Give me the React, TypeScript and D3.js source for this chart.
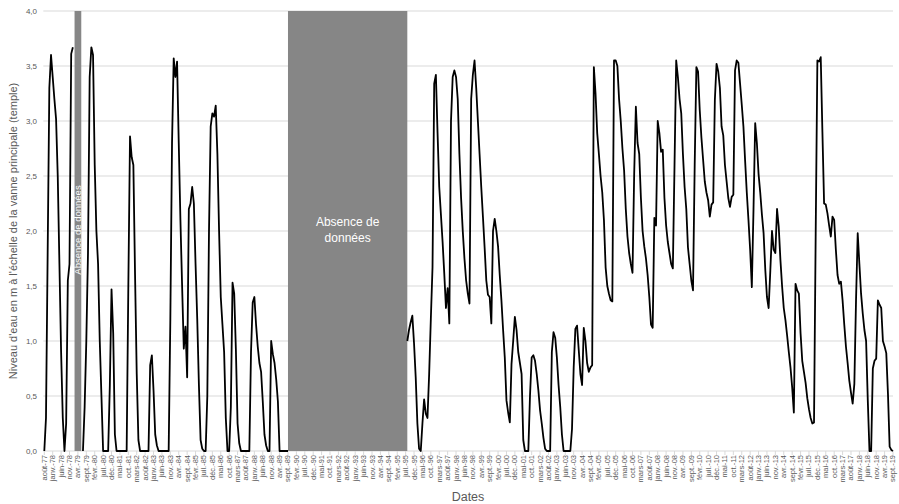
import React from "react";
import * as d3 from "d3";

const N = null;

// French month abbreviations (Excel "mmm-yy" style)
const MONTHS = ["janv.", "févr.", "mars", "avr.", "mai", "juin", "juil.", "août", "sept.", "oct.", "nov.", "déc."];
const START_YEAR = 1977;
const START_MONTH = 7; // août
const LABEL_STEP = 5;

// Monthly water level (m), from août-77 to sept-19, one row per 12 months
const LEVELS: (number | null)[] = [
  0, 0.3, 1.8, 3.3, 3.6, 3.4, 3.2, 3.02, 2.5, 1.7, 0.9, 0.3,
  0, 0.25, 1.55, 1.7, 3.61, 3.67, N, N, N, N, N, 0,
  0.4, 1.0, 1.8, 3.4, 3.67, 3.6, 2.6, 2.0, 1.7, 1.0, 0.5, 0,
  0, 0, 0, 0.6, 1.47, 1.07, 0.15, 0, 0, 0, 0, 0,
  0, 0, 1.5, 2.86, 2.67, 2.6, 1.6, 0.7, 0.1, 0, 0, 0,
  0, 0, 0, 0.78, 0.87, 0.55, 0.15, 0.05, 0, 0, 0, 0,
  0, 0, 0, 1.2, 2.8, 3.57, 3.4, 3.54, 2.8, 2.1, 1.5, 0.93,
  1.13, 0.67, 2.2, 2.25, 2.4, 2.25, 1.7, 1.2, 0.6, 0.1, 0.02, 0,
  0, 0.5, 2.0, 2.95, 3.07, 3.04, 3.14, 2.7, 2.0, 1.4, 1.15, 0.9,
  0.3, 0, 0, 0.4, 1.53, 1.43, 0.92, 0.25, 0.07, 0, 0, 0,
  0, 0, 0, 0.9, 1.35, 1.4, 1.15, 0.95, 0.8, 0.72, 0.45, 0.15,
  0.05, 0, 0, 1.0, 0.88, 0.8, 0.65, 0.45, 0, 0, 0, 0,
  0, 0, N, N, N, N, N, N, N, N, N, N,
  N, N, N, N, N, N, N, N, N, N, N, N,
  N, N, N, N, N, N, N, N, N, N, N, N,
  N, N, N, N, N, N, N, N, N, N, N, N,
  N, N, N, N, N, N, N, N, N, N, N, N,
  N, N, N, N, N, N, N, N, N, N, N, N,
  1.0, 1.1, 1.17, 1.23, 0.98, 0.67, 0.25, 0.02, 0, 0.25, 0.47, 0.34,
  0.3, 0.7, 1.2, 1.67, 3.34, 3.42, 2.89, 2.4, 2.15, 1.9, 1.61, 1.3,
  1.48, 1.16, 3.0, 3.4, 3.46, 3.4, 3.2, 2.7, 2.3, 2.0, 1.75, 1.55,
  1.43, 1.34, 3.2, 3.42, 3.55, 3.3, 3.0, 2.7, 2.4, 2.13, 1.85, 1.55,
  1.42, 1.4, 1.16, 2.0, 2.11, 2.0, 1.86, 1.6, 1.37, 1.1, 0.85, 0.46,
  0.35, 0.26, 0.79, 1.0, 1.22, 1.1, 0.9, 0.8, 0.7, 0.1, 0, 0,
  0, 0.5, 0.85, 0.87, 0.82, 0.7, 0.55, 0.37, 0.25, 0.12, 0.02, 0,
  0, 0, 0.9, 1.08, 1.03, 0.85, 0.6, 0.4, 0.15, 0, 0, 0,
  0, 0, 0.2, 0.76, 1.11, 1.14, 0.92, 0.7, 0.6, 1.12, 1.0, 0.8,
  0.72, 0.76, 0.78, 3.49, 3.25, 2.89, 2.7, 2.5, 2.35, 2.1, 1.67, 1.5,
  1.43, 1.37, 1.36, 3.55, 3.55, 3.5, 3.2, 3.0, 2.75, 2.55, 2.2, 1.95,
  1.8, 1.7, 1.62, 2.52, 3.13, 2.8, 2.7, 2.3, 2.0, 1.86, 1.75, 1.6,
  1.4, 1.15, 1.12, 2.12, 2.05, 3.0, 2.89, 2.72, 2.74, 2.3, 2.05, 1.9,
  1.8, 1.7, 1.66, 2.6, 3.55, 3.4, 3.2, 3.07, 2.7, 2.4, 2.2, 1.85,
  1.7, 1.55, 1.46, 2.6, 3.49, 3.45, 3.1, 2.85, 2.65, 2.45, 2.35, 2.28,
  2.13, 2.24, 2.26, 3.19, 3.52, 3.45, 3.3, 2.95, 2.87, 2.6, 2.45, 2.3,
  2.22, 2.31, 2.33, 3.46, 3.55, 3.53, 3.34, 3.15, 2.95, 2.64, 2.35, 2.1,
  1.83, 1.49, 2.2, 2.98, 2.8, 2.52, 2.35, 2.15, 1.98, 1.65, 1.4, 1.3,
  1.64, 2.0, 1.83, 1.8, 2.2, 2.04, 1.74, 1.5, 1.3, 1.19, 1.05, 0.9,
  0.76, 0.58, 0.35, 1.52, 1.46, 1.43, 1.07, 0.82, 0.72, 0.62, 0.48, 0.38,
  0.3, 0.25, 0.26, 1.98, 3.55, 3.54, 3.58, 2.9, 2.25, 2.24, 2.16, 2.05,
  1.95, 2.13, 2.1, 1.83, 1.6, 1.52, 1.54, 1.37, 1.15, 0.95, 0.8, 0.64,
  0.53, 0.43, 0.61, 1.37, 1.98, 1.7, 1.43, 1.25, 1.1, 1.0, 0.46, 0,
  0, 0.75, 0.82, 0.84, 1.37, 1.33, 1.3, 1.0, 0.95, 0.89, 0.52, 0.04,
  0.01, 0,
];

// Month categories (août-77 ... sept-19)
const CATEGORIES: string[] = LEVELS.map((_, i) => {
  const m = (START_MONTH + i) % 12;
  const y = (START_YEAR + Math.floor((START_MONTH + i) / 12)) % 100;
  return `${MONTHS[m]}-${String(y).padStart(2, "0")}`;
});

const Y_TICKS = [0, 0.5, 1, 1.5, 2, 2.5, 3, 3.5, 4];

const GAPS = [
  { from: "févr.-79", to: "juin-79", lines: ["Absence de données"], vertical: true },
  { from: "sept.-89", to: "août-95", lines: ["Absence de", "données"], vertical: false },
];

const Y_TITLE = "Niveau d'eau en m à l'échelle de la vanne principale (temple)";
const X_TITLE = "Dates";

const W = 899;
const H = 504;
const M = { left: 44.3, right: 893, top: 11, bottom: 451 };
const FONT = "'Liberation Sans', Arial, sans-serif";
const TEXT = "#595959";
const GRID = "#d9d9d9";

export default function App() {
  const idx = d3.range(CATEGORIES.length);
  const x = d3.scaleLinear().domain([0, CATEGORIES.length - 1]).range([M.left, M.right]);
  const y = d3.scaleLinear().domain([0, 4]).range([M.bottom, M.top]);
  const line = d3
    .line<number>()
    .defined((i) => LEVELS[i] != null)
    .x((i) => x(i))
    .y((i) => y(LEVELS[i] as number));
  const fmt = (v: number) => d3.format(".1f")(v).replace(".", ",");
  const labelIdx = idx.filter((i) => i % LABEL_STEP === 0);

  return (
    <svg width={W} height={H} style={{ position: "absolute", left: 0, top: 0, background: "#fff" }} fontFamily={FONT}>
      {/* gridlines */}
      {Y_TICKS.map((t) => (
        <line key={t} x1={M.left - 1} x2={M.right} y1={y(t)} y2={y(t)} stroke={GRID} strokeWidth={1} />
      ))}
      {/* y tick labels */}
      {Y_TICKS.map((t) => (
        <text key={"l" + t} x={37} y={y(t)} dy="0.33em" textAnchor="end" fontSize={8} fill={TEXT}>
          {fmt(t)}
        </text>
      ))}
      {/* x ticks and labels */}
      {labelIdx.map((i) => (
        <g key={i}>
          <line x1={x(i)} x2={x(i)} y1={M.bottom} y2={M.bottom + 4} stroke={GRID} />
          <text
            transform={`translate(${x(i)},${M.bottom + 4}) rotate(-90)`}
            dy="0.33em"
            textAnchor="end"
            fontSize={7.5}
            fill={TEXT}
          >
            {CATEGORIES[i]}
          </text>
        </g>
      ))}
      {/* missing-data rectangles */}
      {GAPS.map((g, k) => {
        const x0 = x(CATEGORIES.indexOf(g.from));
        const x1 = x(CATEGORIES.indexOf(g.to));
        const cx = (x0 + x1) / 2;
        const cy = y(2) - 1;
        return (
          <g key={k}>
            <rect x={x0} y={y(4)} width={x1 - x0} height={y(0) - y(4)} fill="#868686" />
            {g.vertical ? (
              <text
                transform={`translate(${cx},${cy}) rotate(-90)`}
                dy="0.35em"
                textAnchor="middle"
                fontSize={9.5}
                fill="#fff"
              >
                {g.lines[0]}
              </text>
            ) : (
              g.lines.map((l, j) => (
                <text key={j} x={cx} y={cy - 8 + j * 16} dy="0.35em" textAnchor="middle" fontSize={12} fill="#fff">
                  {l}
                </text>
              ))
            )}
          </g>
        );
      })}
      {/* data line */}
      <path d={line(idx) || ""} fill="none" stroke="#000" strokeWidth={1.8} strokeLinejoin="round" />
      {/* axis titles */}
      <text
        transform={`translate(13,${(M.top + M.bottom) / 2}) rotate(-90)`}
        dy="0.35em"
        textAnchor="middle"
        fontSize={11}
        fill={TEXT}
      >
        {Y_TITLE}
      </text>
      <text x={468} y={497} dy="0.35em" textAnchor="middle" fontSize={12.5} fill={TEXT}>
        {X_TITLE}
      </text>
    </svg>
  );
}
